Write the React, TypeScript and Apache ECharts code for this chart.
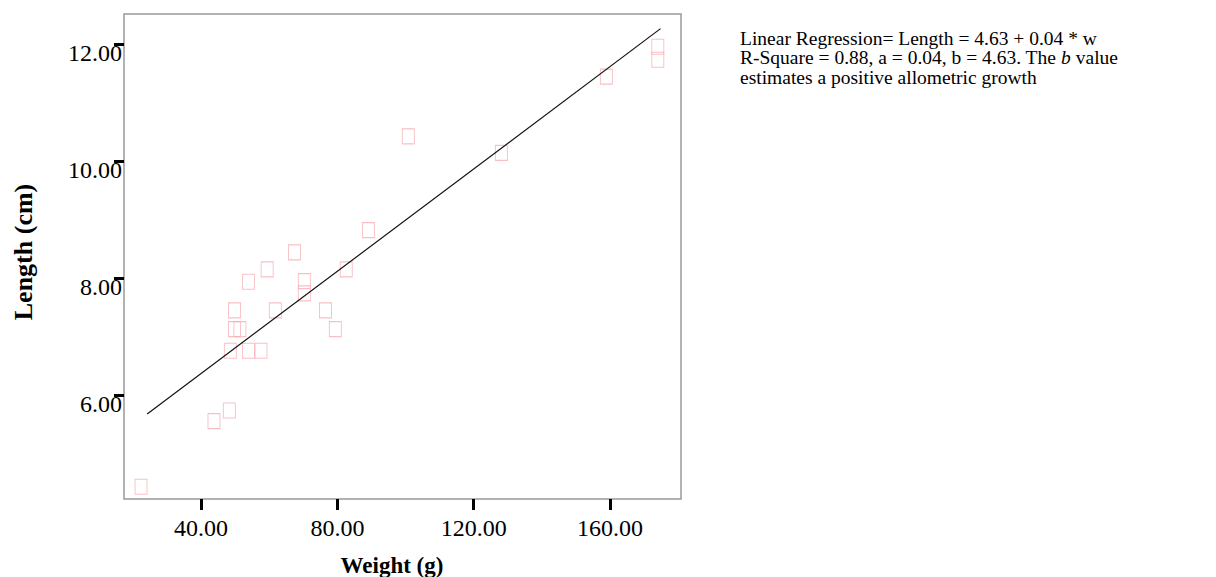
import React, { useEffect, useRef } from "react";
import * as echarts from "echarts";

const weights = [22.4, 43.8, 48.3, 48.6, 53.9, 57.6, 49.8, 51.4, 49.8, 53.9, 59.4, 67.4, 61.8, 70.3, 70.3, 76.5, 79.4, 82.6, 89.1, 100.8, 128.1, 158.9, 174.0, 174.0];
const lengths = [4.44, 5.56, 5.74, 6.76, 6.76, 6.76, 7.13, 7.13, 7.45, 7.94, 8.15, 8.44, 7.45, 7.95, 7.74, 7.45, 7.13, 8.15, 8.82, 10.42, 10.14, 11.44, 11.95, 11.73];
const fitX = [24.2, 174.8];
const fitY = [5.68, 12.26];
const xTicks = [40, 80, 120, 160];
const yTicks = [6, 8, 10, 12];

const SERIF = '"Liberation Serif", "Times New Roman", serif';

export default function App() {
  const ref = useRef<HTMLDivElement>(null);
  useEffect(() => {
    if (!ref.current) return;
    const chart = echarts.init(ref.current, undefined, { renderer: "svg" });
    const pts = weights.map((w, i) => [w, lengths[i]]);
    const fit = fitX.map((x, i) => [x, fitY[i]]);
    chart.setOption({
      animation: false,
      backgroundColor: "#fff",
      grid: { left: 124, top: 14, width: 557, height: 485, show: true, borderColor: "#999", borderWidth: 1.5, backgroundColor: "transparent" },
      xAxis: {
        type: "value",
        min: 17.4,
        max: 180.8,
        axisLine: { show: false },
        splitLine: { show: false },
        axisTick: { show: true, customValues: xTicks, length: 11, lineStyle: { color: "#000", width: 3 } },
        axisLabel: { customValues: xTicks, formatter: (v: number) => v.toFixed(2), margin: 17, color: "#000", fontFamily: SERIF, fontSize: 24 },
      },
      yAxis: {
        type: "value",
        min: 4.23,
        max: 12.51,
        axisLine: { show: false },
        splitLine: { show: false },
        axisTick: { show: true, customValues: yTicks, length: 10, lineStyle: { color: "#000", width: 3 } },
        axisLabel: { customValues: yTicks, formatter: (v: number) => v.toFixed(2), margin: 2, verticalAlign: "top", lineHeight: 18, color: "#000", fontFamily: SERIF, fontSize: 24 },
      },
      series: [
        {
          type: "scatter",
          data: pts,
          symbol: "rect",
          symbolSize: [12, 15],
          itemStyle: { color: "rgba(0,0,0,0)", borderColor: "#f7aeb3", borderWidth: 1 },
          z: 3,
        },
        {
          type: "line",
          data: fit,
          symbol: "none",
          lineStyle: { color: "#111", width: 1.2 },
          z: 4,
        },
      ],
      graphic: [
        {
          type: "text",
          left: 740,
          top: 28,
          style: {
            text: "Linear Regression= Length = 4.63 + 0.04 * w\nR-Square = 0.88, a = 0.04, b = 4.63. The {i|b} value\nestimates a positive allometric growth",
            fontFamily: SERIF,
            fontSize: 19.5,
            lineHeight: 19.5,
            fill: "#000",
            rich: { i: { fontStyle: "italic", fontFamily: SERIF, fontSize: 19.5, lineHeight: 19.5 } },
          },
        },
        {
          type: "text",
          x: 392,
          y: 565,
          style: { text: "Weight (g)", fontFamily: SERIF, fontSize: 23, fontWeight: "bold", fill: "#000", align: "center", verticalAlign: "middle" },
        },
        {
          type: "text",
          x: 23,
          y: 252,
          rotation: Math.PI / 2,
          style: { text: "Length (cm)", fontFamily: SERIF, fontSize: 26, fontWeight: "bold", fill: "#000", align: "center", verticalAlign: "middle" },
        },
      ],
    });
    return () => chart.dispose();
  }, []);
  return <div ref={ref} style={{ position: "fixed", left: 0, top: 0, width: 1216, height: 577 }} />;
}
